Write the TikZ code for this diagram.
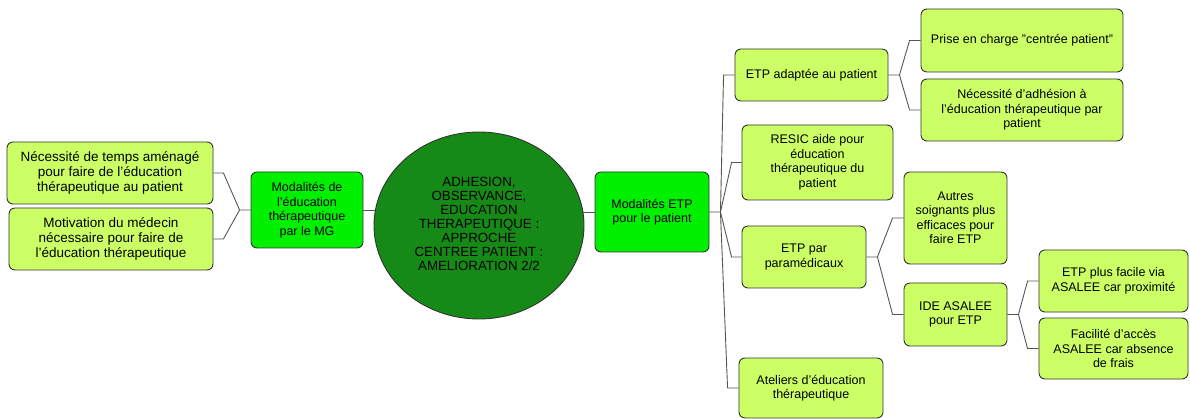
\documentclass[tikz,border=0pt]{standalone}
\usepackage{fontspec}
\setmainfont{Liberation Sans}
\usetikzlibrary{shapes.geometric,calc}
\definecolor{lightg}{HTML}{CCFF66}
\definecolor{brightg}{HTML}{00F000}
\definecolor{darkg}{HTML}{168A16}
\definecolor{edge}{HTML}{333333}
\definecolor{conn}{HTML}{555555}
\tikzset{
  box/.style={draw=edge, line width=0.9pt, rounded corners=6pt, fill=lightg, align=center, inner sep=0pt,
    font=\fontsize{12.5}{14.5}\selectfont},
  bigbox/.style={box, font=\fontsize{13.5}{15}\selectfont},
  mainbox/.style={box, fill=brightg},
  hub/.style={draw=edge, line width=0.9pt, fill=darkg, ellipse, align=center, inner sep=0pt,
    font=\fontsize{13.3}{15.2}\selectfont},
  link/.style={draw=conn, line width=0.9pt}
}
\begin{document}
\begin{tikzpicture}[x=1pt,y=-1pt]
\useasboundingbox (0,0) rectangle (1190,419);
% nodes
\node[bigbox, minimum width=206pt, minimum height=62pt] (L1) at (110,173) {Nécessité de temps aménagé\\pour faire de l’éducation\\thérapeutique au patient};
\node[bigbox, minimum width=204pt, minimum height=62pt] (L2) at (111,239) {Motivation du médecin\\nécessaire pour faire de\\l’éducation thérapeutique};
\node[mainbox, minimum width=112pt, minimum height=76pt] (M1) at (307,210) {Modalités de\\l’éducation\\thérapeutique\\par le MG};
\node[mainbox, minimum width=114pt, minimum height=80pt] (M2) at (652,212) {Modalités ETP\\pour le patient};
\node[box, minimum width=153pt, minimum height=52pt] (R1) at (811.5,75) {ETP adaptée au patient};
\node[box, minimum width=202pt, minimum height=63pt] (R1a) at (1022,40.5) {Prise en charge "centrée patient"};
\node[box, minimum width=202pt, minimum height=62pt] (R1b) at (1022,110) {Nécessité d’adhésion à\\l’éducation thérapeutique par\\patient};
\node[box, minimum width=151pt, minimum height=75pt] (R2) at (817.5,162.5) {RESIC aide pour\\éducation\\thérapeutique du\\patient};
\node[box, minimum width=124pt, minimum height=62pt] (R3) at (804,257) {ETP par\\paramédicaux};
\node[box, minimum width=103pt, minimum height=92pt] (R3a) at (955.5,218) {Autres\\soignants plus\\efficaces pour\\faire ETP};
\node[box, minimum width=103pt, minimum height=63pt] (R3b) at (955.5,314.5) {IDE ASALEE\\pour ETP};
\node[box, minimum width=149pt, minimum height=62pt] (R3b1) at (1113.5,281) {ETP plus facile via\\ASALEE car proximité};
\node[box, minimum width=149pt, minimum height=61pt] (R3b2) at (1113.5,348.5) {Facilité d’accès\\ASALEE car absence\\de frais};
\node[box, minimum width=144pt, minimum height=60pt] (R4) at (811,388) {Ateliers d’éducation\\thérapeutique};
% connectors
\draw[link] (L1.east) -- ++(10,0) -- ($(M1.west)+(-11,0)$) -- (M1.west);
\draw[link] (L2.east) -- ++(10,0) -- ($(M1.west)+(-11,0)$);
\draw[link] (M1.east) -- (375,210) coordinate (cw);
\draw[link] (583,212) coordinate (ce) -- (M2.west);
\draw[link] (M2.east) -- ++(11,0) coordinate (f2) -- ($(R1.west)+(-11,0)$) -- (R1.west);
\draw[link] (f2) -- ($(R2.west)+(-10,0)$) -- (R2.west);
\draw[link] (f2) -- ($(R3.west)+(-10,0)$) -- (R3.west);
\draw[link] (f2) -- ($(R4.west)+(-11,0)$) -- (R4.west);
\draw[link] (R1.east) -- ++(11,0) coordinate (f1) -- ($(R1a.west)+(-11,0)$) -- (R1a.west);
\draw[link] (f1) -- ($(R1b.west)+(-11,0)$) -- (R1b.west);
\draw[link] (R3.east) -- ++(11,0) coordinate (f3) -- ($(R3a.west)+(-11,0)$) -- (R3a.west);
\draw[link] (f3) -- ($(R3b.west)+(-11,0)$) -- (R3b.west);
\draw[link] (R3b.east) -- ++(11,0) coordinate (f4) -- ($(R3b1.west)+(-11,0)$) -- (R3b1.west);
\draw[link] (f4) -- ($(R3b2.west)+(-11,0)$) -- (R3b2.west);
% central ellipse (drawn last so it covers connector ends)
\node[hub, minimum width=210pt, minimum height=187pt] (C) at (479,225.5) {\raisebox{-2.5pt}{\begin{tabular}{@{}c@{}}ADHESION,\\[-1.2pt]OBSERVANCE,\\[-1.2pt]EDUCATION\\[-1.2pt]THERAPEUTIQUE :\\[-1.2pt]APPROCHE\\[-1.2pt]CENTREE PATIENT :\\[-1.2pt]AMELIORATION 2/2\end{tabular}}};
\end{tikzpicture}
\end{document}
